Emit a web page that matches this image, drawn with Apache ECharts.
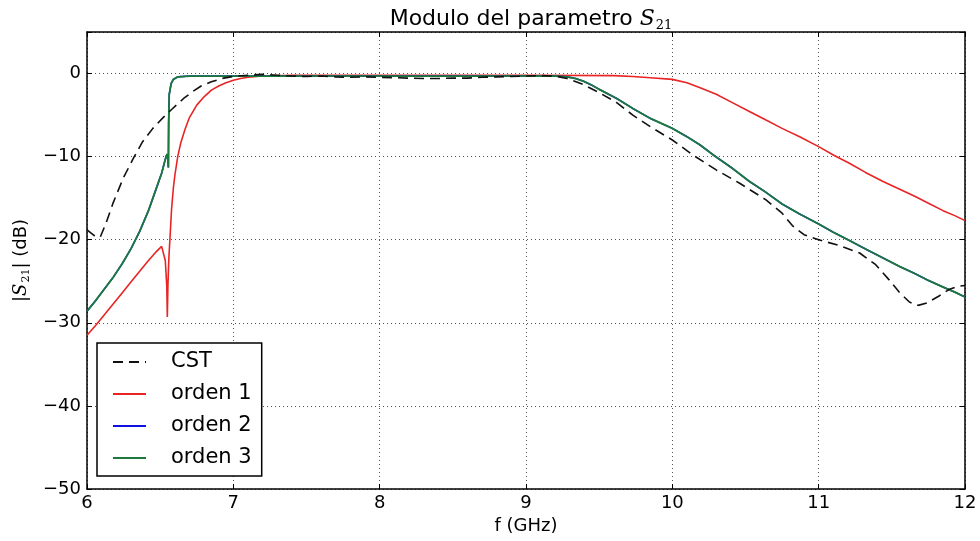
<!DOCTYPE html>
<html>
<head>
<meta charset="utf-8">
<script src="https://cdn.jsdelivr.net/npm/echarts@6/dist/echarts.min.js"></script>
<style>
  html, body { margin: 0; padding: 0; background: #fff; }
  #chart { width: 980px; height: 541px; }
</style>
</head>
<body>
<div id="chart"></div>
<script>
// ---- data ----
const xTicks = [6, 7, 8, 9, 10, 11, 12];
const yTicks = [-50, -40, -30, -20, -10, 0];

const cstF  = [6.00, 6.05, 6.09, 6.13, 6.18, 6.25, 6.32, 6.38, 6.45, 6.52, 6.58, 6.66, 6.72, 6.78, 6.85, 6.92, 7.00, 7.10, 7.20, 7.30, 7.40, 7.50, 7.60, 7.70, 7.80, 7.90, 8.00, 8.10, 8.20, 8.30, 8.40, 8.50, 8.60, 8.70, 8.80, 8.90, 9.00, 9.10, 9.20, 9.28, 9.39, 9.50, 9.62, 9.73, 9.85, 10.00, 10.14, 10.30, 10.46, 10.64, 10.75, 10.82, 10.90, 11.00, 11.14, 11.28, 11.39, 11.48, 11.55, 11.62, 11.68, 11.74, 11.82, 11.89, 11.95, 12.00];
const cstDb = [-18.8, -19.5, -19.7, -18.0, -15.5, -12.5, -10.1, -8.2, -6.6, -5.3, -4.3, -3.0, -2.2, -1.5, -1.0, -0.6, -0.35, -0.2, -0.1, -0.2, -0.3, -0.35, -0.3, -0.4, -0.45, -0.4, -0.45, -0.5, -0.55, -0.6, -0.6, -0.55, -0.55, -0.45, -0.4, -0.35, -0.3, -0.25, -0.3, -0.6, -1.3, -2.3, -3.5, -5.0, -6.4, -8.0, -9.8, -11.6, -13.2, -15.2, -16.8, -18.3, -19.4, -20.0, -20.7, -21.6, -23.0, -24.8, -26.3, -27.5, -27.9, -27.6, -26.8, -26.0, -25.6, -25.5];

const o1F  = [6.00, 6.06, 6.12, 6.18, 6.24, 6.30, 6.36, 6.42, 6.47, 6.51, 6.52, 6.535, 6.545, 6.549, 6.553, 6.56, 6.568, 6.578, 6.59, 6.60, 6.62, 6.64, 6.67, 6.70, 6.75, 6.80, 6.85, 6.90, 6.95, 7.00, 7.05, 7.10, 7.20, 7.40, 8.00, 9.00, 9.60, 9.73, 9.85, 10.00, 10.10, 10.19, 10.30, 10.41, 10.52, 10.64, 10.75, 10.87, 11.00, 11.10, 11.21, 11.32, 11.44, 11.55, 11.66, 11.75, 11.85, 11.93, 12.00];
const o1Db = [-31.5, -30.3, -29.0, -27.7, -26.4, -25.1, -23.8, -22.5, -21.5, -20.8, -21.0, -22.5, -25.5, -29.3, -25.5, -22.0, -19.5, -16.3, -13.8, -12.3, -10.0, -8.4, -6.7, -5.3, -3.8, -2.8, -2.0, -1.5, -1.1, -0.8, -0.6, -0.45, -0.3, -0.2, -0.2, -0.2, -0.25, -0.35, -0.5, -0.7, -1.1, -1.7, -2.5, -3.5, -4.5, -5.6, -6.6, -7.6, -8.8, -9.8, -10.8, -11.9, -13.0, -13.9, -14.8, -15.6, -16.5, -17.1, -17.7];

const o3F  = [6.00, 6.06, 6.12, 6.18, 6.24, 6.30, 6.36, 6.42, 6.47, 6.51, 6.54, 6.548, 6.553, 6.556, 6.558, 6.562, 6.575, 6.59, 6.62, 6.70, 7.00, 8.00, 9.00, 9.20, 9.28, 9.34, 9.39, 9.45, 9.50, 9.62, 9.73, 9.85, 10.00, 10.10, 10.19, 10.28, 10.41, 10.52, 10.64, 10.75, 10.87, 11.00, 11.10, 11.21, 11.33, 11.44, 11.55, 11.66, 11.75, 11.85, 11.93, 12.00];
const o3Db = [-28.6, -27.3, -25.9, -24.5, -22.9, -21.1, -19.0, -16.5, -14.0, -12.0, -10.0, -9.7, -10.5, -11.3, -6.0, -2.5, -1.2, -0.7, -0.4, -0.3, -0.3, -0.3, -0.3, -0.3, -0.4, -0.6, -0.9, -1.4, -1.9, -3.0, -4.2, -5.4, -6.6, -7.6, -8.6, -9.8, -11.4, -12.9, -14.3, -15.7, -16.9, -18.1, -19.1, -20.1, -21.2, -22.2, -23.2, -24.1, -24.9, -25.7, -26.3, -26.9];

// orden 2 coincides with orden 3 (hidden beneath it in the reference)
const o2F  = o3F.slice();
const o2Db = o3Db.slice();

const seriesNames = ['CST', 'orden 1', 'orden 2', 'orden 3'];

// ---- chart ----
function pairs(xs, ys) { return xs.map((x, i) => [x, ys[i]]); }
function fmtNum(v) {
  if (v === 5) return '';
  return v < 0 ? '\u2212' + Math.abs(v) : String(v);
}

const FONT = 'DejaVu Sans';
const chart = echarts.init(document.getElementById('chart'), null, { renderer: 'canvas' });

const axisCommonX = {
  type: 'value', min: xTicks[0], max: xTicks[xTicks.length - 1], interval: 1
};
const axisCommonY = {
  type: 'value', min: yTicks[0], max: 5, interval: 10
};

chart.setOption({
  backgroundColor: '#ffffff',
  animation: false,
  title: {
    text: 'Modulo del parametro {s|S}{sub|21}',
    left: 526,
    top: 2,
    textAlign: 'center',
    textStyle: {
      fontFamily: FONT, fontSize: 22, fontWeight: 'normal', color: '#000',
      rich: {
        s: { fontFamily: 'DejaVu Serif', fontStyle: 'italic', fontSize: 22, color: '#000' },
        sub: { fontFamily: 'DejaVu Serif', fontSize: 13, color: '#000', padding: [12, 0, 0, 1] }
      }
    }
  },
  grid: { left: 87, right: 15, top: 32, bottom: 52, show: false },
  legend: {
    orient: 'vertical',
    left: 97, top: 343,
    data: seriesNames,
    itemWidth: 33, itemHeight: 14, itemGap: 10,
    padding: [8, 10, 7, 15],
    backgroundColor: '#fff',
    borderColor: '#000', borderWidth: 1.5, borderRadius: 0,
    itemStyle: { opacity: 0 },
    textStyle: { fontFamily: FONT, fontSize: 21, color: '#000', lineHeight: 22, padding: [0, 0, 0, 20] }
  },
  xAxis: [
    Object.assign({}, axisCommonX, {
      position: 'bottom',
      name: 'f (GHz)', nameLocation: 'middle', nameGap: 23,
      nameTextStyle: { fontFamily: FONT, fontSize: 18, color: '#000' },
      axisLine: { show: true, onZero: false, lineStyle: { color: '#000', width: 1.5 } },
      axisTick: { show: true, inside: true, length: 5, lineStyle: { color: '#000' } },
      axisLabel: { fontFamily: FONT, fontSize: 18, color: '#000', margin: 5, formatter: fmtNum },
      splitLine: { show: true, lineStyle: { color: '#555', type: [1, 3], width: 1 } }
    }),
    Object.assign({}, axisCommonX, {
      position: 'top',
      axisLine: { show: true, onZero: false, lineStyle: { color: '#000', width: 1.5 } },
      axisTick: { show: true, inside: true, length: 5, lineStyle: { color: '#000' } },
      axisLabel: { show: false },
      splitLine: { show: false }
    })
  ],
  yAxis: [
    Object.assign({}, axisCommonY, {
      position: 'left',
      name: '|{s|S}{sub|21}| (dB)', nameLocation: 'middle', nameGap: 55,
      nameTextStyle: {
        fontFamily: FONT, fontSize: 18, color: '#000',
        rich: {
          s: { fontFamily: 'DejaVu Serif', fontStyle: 'italic', fontSize: 18, color: '#000' },
          sub: { fontFamily: 'DejaVu Serif', fontSize: 11, color: '#000', padding: [10, 0, 0, 1] }
        }
      },
      axisLine: { show: true, onZero: false, lineStyle: { color: '#000', width: 1.5 } },
      axisTick: { show: true, inside: true, length: 5, lineStyle: { color: '#000' } },
      axisLabel: { fontFamily: FONT, fontSize: 18, color: '#000', margin: 6, formatter: fmtNum },
      splitLine: { show: true, lineStyle: { color: '#555', type: [1, 3], width: 1 } }
    }),
    Object.assign({}, axisCommonY, {
      position: 'right',
      axisLine: { show: true, onZero: false, lineStyle: { color: '#000', width: 1.5 } },
      axisTick: { show: true, inside: true, length: 5, lineStyle: { color: '#000' } },
      axisLabel: { show: false },
      splitLine: { show: false }
    })
  ],
  series: [
    {
      name: 'CST', type: 'line', data: pairs(cstF, cstDb),
      symbol: 'none', showSymbol: false, smooth: false, z: 5,
      lineStyle: { color: '#111', width: 1.6, type: [10, 6] }, itemStyle: { color: '#111' }
    },
    {
      name: 'orden 1', type: 'line', data: pairs(o1F, o1Db),
      symbol: 'none', showSymbol: false, smooth: false, z: 3,
      lineStyle: { color: '#e82424', width: 1.6 }, itemStyle: { color: '#e82424' }
    },
    {
      name: 'orden 2', type: 'line', data: pairs(o2F, o2Db),
      symbol: 'none', showSymbol: false, smooth: false, z: 3,
      lineStyle: { color: '#1010e0', width: 1.6 }, itemStyle: { color: '#1010e0' }
    },
    {
      name: 'orden 3', type: 'line', data: pairs(o3F, o3Db),
      symbol: 'none', showSymbol: false, smooth: false, z: 4,
      lineStyle: { color: '#1b7a3b', width: 1.8 }, itemStyle: { color: '#1b7a3b' }
    }
  ]
});
</script>
</body>
</html>
